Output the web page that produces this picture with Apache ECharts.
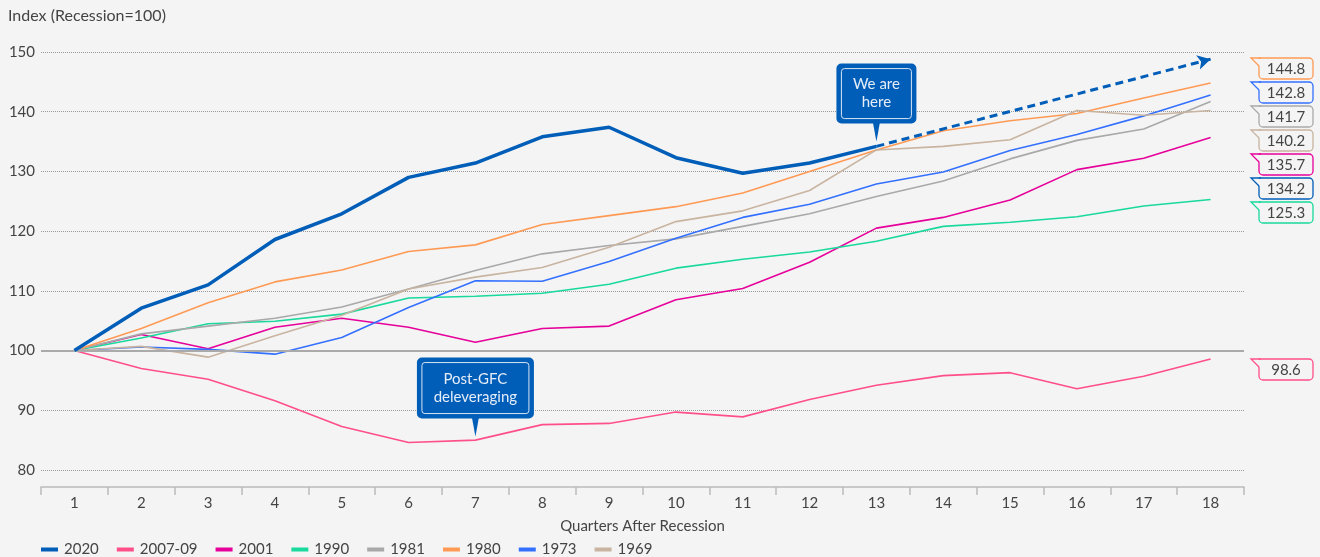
<!DOCTYPE html>
<html>
<head>
<meta charset="utf-8">
<script src="https://cdn.jsdelivr.net/npm/echarts@6/dist/echarts.min.js"></script>
<style>
  html, body { margin: 0; padding: 0; background: #f4f4f4; }
  #main { width: 1320px; height: 557px; }
</style>
</head>
<body>
<div id="main"></div>
<script>
const quarters = ['1', '2', '3', '4', '5', '6', '7', '8', '9', '10', '11', '12', '13', '14', '15', '16', '17', '18']

const s2020 = [100, 107.1, 111.0, 118.6, 122.9, 129.0, 131.4, 135.8, 137.4, 132.3, 129.7, 131.4, 134.2, null, null, null, null, null]
const s2007 = [100, 97.0, 95.2, 91.6, 87.3, 84.6, 85.0, 87.6, 87.8, 89.7, 88.9, 91.8, 94.2, 95.8, 96.3, 93.6, 95.7, 98.6]
const s2001 = [100, 102.7, 100.3, 103.9, 105.4, 103.9, 101.4, 103.7, 104.1, 108.5, 110.4, 114.8, 120.5, 122.3, 125.2, 130.3, 132.2, 135.7]
const s1990 = [100, 102.1, 104.5, 104.9, 106.1, 108.8, 109.1, 109.6, 111.1, 113.8, 115.3, 116.5, 118.3, 120.8, 121.5, 122.4, 124.2, 125.3]
const s1981 = [100, 102.8, 104.1, 105.4, 107.3, 110.3, 113.4, 116.2, 117.6, 118.7, 120.8, 122.9, 125.8, 128.4, 132.1, 135.2, 137.1, 141.7]
const s1980 = [100, 103.7, 108.0, 111.5, 113.5, 116.6, 117.7, 121.1, 122.6, 124.1, 126.4, 130.0, 133.6, 136.8, 138.5, 139.7, 142.3, 144.8]
const s1973 = [100, 100.6, 100.2, 99.4, 102.2, 107.2, 111.7, 111.6, 114.9, 118.8, 122.3, 124.5, 127.9, 129.9, 133.5, 136.2, 139.3, 142.8]
const s1969 = [100, 100.7, 98.9, 102.5, 105.9, 110.3, 112.3, 113.9, 117.3, 121.6, 123.4, 126.8, 133.6, 134.2, 135.3, 140.2, 139.4, 140.2]

// dashed projection for 2020
const projQuarters = ['13', '18']
const projValues = [134.2, 148.8]

const yTicks = [80, 90, 100, 110, 120, 130, 140, 150]

const font = 'Lato'
const textColor = '#444'

const seriesList = [
  { name: '2020', data: s2020, color: '#005eb8', width: 3.5 },
  { name: '2007-09', data: s2007, color: '#ff4f88', width: 1.6 },
  { name: '2001', data: s2001, color: '#e6009b', width: 1.6 },
  { name: '1990', data: s1990, color: '#19d99c', width: 1.6 },
  { name: '1981', data: s1981, color: '#a9a9a9', width: 1.6 },
  { name: '1980', data: s1980, color: '#ff9a55', width: 1.6 },
  { name: '1973', data: s1973, color: '#3470ff', width: 1.6 },
  { name: '1969', data: s1969, color: '#c8b4a0', width: 1.6 }
]

const chart = echarts.init(document.getElementById('main'))

const series = seriesList.map((s, i) => {
  const item = {
    name: s.name,
    type: 'line',
    data: s.data,
    symbol: 'none',
    smooth: false,
    z: s.name === '2020' ? 5 : 3,
    itemStyle: { color: s.color },
    lineStyle: { color: s.color, width: s.width }
  }
  if (s.name === '2020') {
    item.markLine = {
      silent: true,
      symbol: ['none', 'arrow'],
      symbolSize: [11, 13],
      label: { show: false },
      lineStyle: { color: s.color, width: 3, type: [8, 5] },
      data: [[
        { coord: [projQuarters[0], projValues[0]] },
        { coord: [projQuarters[1], projValues[1]] }
      ]]
    }
  }
  if (s.name === '2007-09') {
    item.markLine = {
      silent: true,
      symbol: 'none',
      label: { show: false },
      lineStyle: { color: '#aaaaaa', width: 2, type: 'solid' },
      data: [{ yAxis: 100 }]
    }
  }
  return item
})

const option = {
  backgroundColor: '#f4f4f4',
  textStyle: { fontFamily: font },
  animation: false,
  title: {
    text: 'Index (Recession=100)',
    left: 3,
    top: 3,
    textStyle: { fontFamily: font, fontSize: 16, fontWeight: 'normal', color: textColor }
  },
  legend: {
    left: 36,
    top: 537,
    icon: 'rect',
    itemWidth: 17,
    itemHeight: 4,
    itemGap: 18,
    textStyle: { fontFamily: font, fontSize: 15, color: textColor, padding: [0, 0, 0, 1] },
    data: seriesList.map(s => s.name)
  },
  grid: {
    left: 41,
    right: 76,
    top: 52,
    bottom: 87
  },
  xAxis: {
    type: 'category',
    data: quarters,
    boundaryGap: true,
    offset: 17,
    axisLine: { lineStyle: { color: '#bbbbbb', width: 1.5 } },
    axisTick: { show: true, length: 8, lineStyle: { color: '#bbbbbb', width: 1.5 } },
    axisLabel: { fontFamily: font, fontSize: 15, color: textColor, margin: 9 },
    name: 'Quarters After Recession',
    nameLocation: 'middle',
    nameGap: 32,
    nameTextStyle: { fontFamily: font, fontSize: 15, color: textColor }
  },
  yAxis: {
    type: 'value',
    min: yTicks[0],
    max: yTicks[yTicks.length - 1],
    interval: 10,
    axisLine: { show: false },
    axisTick: { show: false },
    axisLabel: { fontFamily: font, fontSize: 15, color: textColor, margin: 6 },
    splitLine: { lineStyle: { color: '#9a9a9a', width: 1, type: [1, 1] } }
  },
  series: series
}

chart.setOption(option)

// end-value tags on the right
function endValue(arr) {
  for (let i = arr.length - 1; i >= 0; i--) {
    if (arr[i] != null) return arr[i]
  }
  return null
}

const tagTops = [58, 82, 106, 130, 154, 178, 202, 359]
const tagLeft = 1251
const tagW = 62
const tagH = 21
const bg = '#f4f4f4'

const tags = seriesList
  .map(s => ({ value: endValue(s.data), color: s.color }))
  .sort((a, b) => b.value - a.value)

const graphics = []
tags.forEach((t, i) => {
  const top = tagTops[i]
  graphics.push({
    type: 'group',
    x: tagLeft,
    y: top,
    silent: true,
    children: [
      {
        type: 'rect',
        shape: { x: 8, y: 0, width: tagW - 8, height: tagH, r: [0, 4, 4, 4] },
        style: { fill: bg, stroke: t.color, lineWidth: 1.3 }
      },
      {
        type: 'polygon',
        shape: { points: [[1, 0.7], [10, 0.7], [10, 9], [8.7, 8]] },
        style: { fill: bg }
      },
      {
        type: 'polyline',
        shape: { points: [[8, 8], [0, 0], [10, 0]] },
        style: { stroke: t.color, lineWidth: 1.3, fill: null }
      },
      {
        type: 'text',
        x: 8 + (tagW - 8) / 2,
        y: tagH / 2 + 0.5,
        style: {
          text: t.value.toFixed(1),
          fill: textColor,
          font: '15px ' + font,
          align: 'center',
          verticalAlign: 'middle'
        }
      }
    ]
  })
})

// callout boxes
function callout(tip, w, h, lines) {
  const boxBottom = tip[1] - 18
  const left = tip[0] - w / 2
  const top = boxBottom - h
  return {
    type: 'group',
    silent: true,
    children: [
      {
        type: 'rect',
        shape: { x: left, y: top, width: w, height: h, r: 5 },
        style: { fill: '#005eb8' }
      },
      {
        type: 'rect',
        shape: { x: left + 5, y: top + 5, width: w - 10, height: h - 10, r: 3 },
        style: { fill: null, stroke: '#d7e4f3', lineWidth: 1 }
      },
      {
        type: 'polygon',
        shape: { points: [[tip[0] - 3.5, boxBottom - 1], [tip[0] + 3.5, boxBottom - 1], [tip[0], tip[1]]] },
        style: { fill: '#005eb8' }
      },
      {
        type: 'text',
        x: tip[0],
        y: top + h / 2,
        style: {
          text: lines.join('\n'),
          fill: '#e4edf8',
          font: '15px ' + font,
          lineHeight: 18,
          align: 'center',
          verticalAlign: 'middle'
        }
      }
    ]
  }
}

const hereTip = chart.convertToPixel({ gridIndex: 0 }, ['13', 135.0])
const gfcTip = chart.convertToPixel({ gridIndex: 0 }, ['7', 85.6])
graphics.push(callout(hereTip, 80, 60, ['We are', 'here']))
graphics.push(callout(gfcTip, 117, 61, ['Post-GFC', 'deleveraging']))

chart.setOption({ graphic: graphics })
</script>
</body>
</html>
